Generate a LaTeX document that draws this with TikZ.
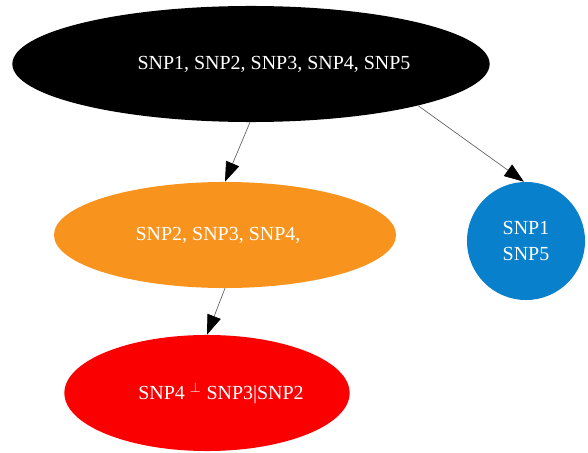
\documentclass[tikz,border=0pt]{standalone}
\usepackage{fontspec}
\setmainfont{Liberation Serif}
\usetikzlibrary{shapes.geometric,arrows.meta}
\definecolor{snporange}{RGB}{248,148,29}
\definecolor{snpblue}{RGB}{8,128,204}
\definecolor{snpred}{RGB}{250,0,0}
\tikzset{
  snp/.style={ellipse,inner sep=0pt},
  snptext/.style={text=white,align=center,inner sep=0pt,
    font=\fontsize{14.2}{18.4}\selectfont},
  edge/.style={draw=black!60,line width=0.5pt,
    -{Triangle[length=14pt,width=10pt,color=black]}}
}
\begin{document}
\begin{tikzpicture}[x=0.025cm,y=-0.025cm]
    % rahmen (588 x 453 px)
    \useasboundingbox (0,0) rectangle (588,453);

    % Knoten
    \node[snp,fill=black,minimum width=11.93cm,minimum height=2.9cm,
      label={[snptext,xshift=0.575cm]center:SNP1, SNP2, SNP3, SNP4, SNP5}] (all) at (251,64) {};
    \node[snp,fill=snporange,minimum width=8.55cm,minimum height=2.65cm,
      label={[snptext,xshift=-0.175cm]center:SNP2, SNP3, SNP4,}] (mid) at (225,235) {};
    \node[snp,circle,fill=snpblue,minimum size=2.95cm,
      label={[snptext]center:SNP1\\SNP5}] (side) at (526,241) {};
    \node[snp,fill=snpred,minimum width=7.13cm,minimum height=2.9cm,
      label={[snptext,xshift=0.35cm]center:SNP4 $^{\perp}$ SNP3|SNP2}] (cond) at (207,393) {};

    % Kanten
    \draw[edge] (all.269) -- (mid.90);
    \draw[edge] (all.346) -- (side.92);
    \draw[edge] (mid.270) -- (cond.90);
\end{tikzpicture}
\end{document}
